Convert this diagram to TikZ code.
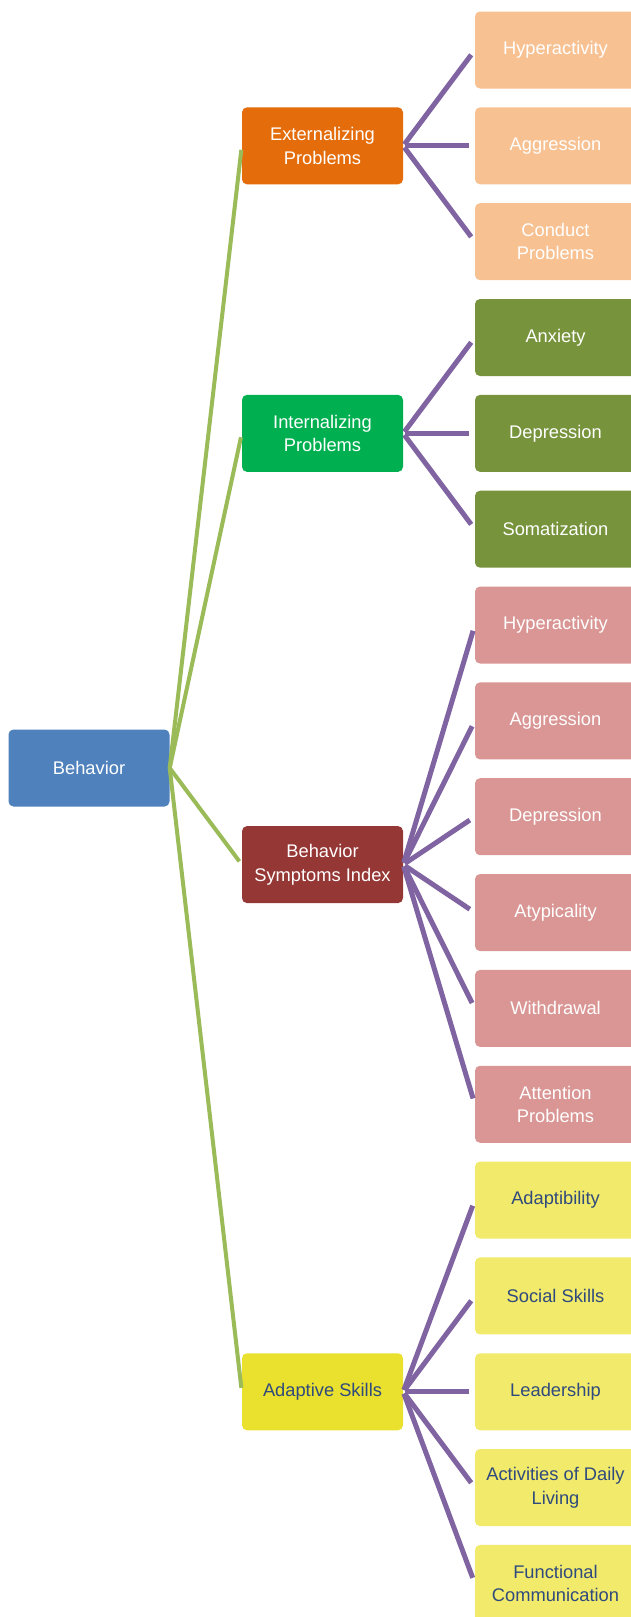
\documentclass[tikz,border=0pt]{standalone}
\usepackage{fontspec}
\setmainfont{Liberation Sans}
\definecolor{rootblue}{HTML}{4F81BD}
\definecolor{extorange}{HTML}{E46C0A}
\definecolor{extleaf}{HTML}{F8C192}
\definecolor{intgreen}{HTML}{00B050}
\definecolor{intleaf}{HTML}{77933C}
\definecolor{bsired}{HTML}{953735}
\definecolor{bsileaf}{HTML}{D99694}
\definecolor{adayellow}{HTML}{EAE02E}
\definecolor{adaleaf}{HTML}{F2EA6B}
\definecolor{adatext}{HTML}{2F4A7C}
\definecolor{branchgreen}{HTML}{9BBB59}
\definecolor{twigpurple}{HTML}{8064A2}

\begin{document}
\begin{tikzpicture}[node distance={95.84pt},
  main/.style = {rounded corners=5pt, minimum width=161pt, minimum height=77pt, inner sep=0pt, align=center, text=white, font=\fontsize{18.3}{23.5}\selectfont},
  branch/.style = {draw=branchgreen, line width=4pt, shorten >=4pt},
  twig/.style = {draw=twigpurple, line width=5pt, shorten <=2pt, shorten >=6pt}]
\useasboundingbox[fill=white] (0pt,0pt) rectangle (631pt,-1617pt);
% leaves
\node[main, fill=extleaf] (hyp1) at (555.5pt,-50pt) {Hyperactivity};
\node[main, fill=extleaf] (agg1) [below of=hyp1] {Aggression};
\node[main, fill=extleaf] (cond) [below of=agg1] {Conduct\\Problems};
\node[main, fill=intleaf] (anx) [below of=cond] {Anxiety};
\node[main, fill=intleaf] (dep1) [below of=anx] {Depression};
\node[main, fill=intleaf] (som) [below of=dep1] {Somatization};
\node[main, fill=bsileaf] (hyp2) [below of=som] {Hyperactivity};
\node[main, fill=bsileaf] (agg2) [below of=hyp2] {Aggression};
\node[main, fill=bsileaf] (dep2) [below of=agg2] {Depression};
\node[main, fill=bsileaf] (aty) [below of=dep2] {Atypicality};
\node[main, fill=bsileaf] (wit) [below of=aty] {Withdrawal};
\node[main, fill=bsileaf] (att) [below of=wit] {Attention\\Problems};
\node[main, fill=adaleaf, text=adatext] (ada) [below of=att] {Adaptibility};
\node[main, fill=adaleaf, text=adatext] (soc) [below of=ada] {Social Skills};
\node[main, fill=adaleaf, text=adatext] (lea) [below of=soc] {Leadership};
\node[main, fill=adaleaf, text=adatext] (adl) [below of=lea] {Activities of Daily\\Living};
\node[main, fill=adaleaf, text=adatext] (fun) [below of=adl] {Functional\\Communication};
% middle level
\node[main, fill=extorange] (ext) [left of=agg1, node distance=233pt] {Externalizing\\Problems};
\node[main, fill=intgreen] (int) [left of=dep1, node distance=233pt] {Internalizing\\Problems};
\node[main, fill=bsired] (bsi) at (322.5pt,-864.6pt) {Behavior\\Symptoms Index};
\node[main, fill=adayellow, text=adatext] (ads) [left of=lea, node distance=233pt] {Adaptive Skills};
% root
\node[main, fill=rootblue] (beh) at (89pt,-768pt) {Behavior};
\draw[branch] (beh.east) -- (ext.west);
\draw[branch] (beh.east) -- (int.west);
\draw[branch] (beh.east) -- (bsi.west);
\draw[branch] (beh.east) -- (ads.west);
\draw[twig] (ext.east) -- (hyp1.west);
\draw[twig] (ext.east) -- (agg1.west);
\draw[twig] (ext.east) -- (cond.west);
\draw[twig] (int.east) -- (anx.west);
\draw[twig] (int.east) -- (dep1.west);
\draw[twig] (int.east) -- (som.west);
\draw[twig] (bsi.east) -- (hyp2.west);
\draw[twig] (bsi.east) -- (agg2.west);
\draw[twig] (bsi.east) -- (dep2.west);
\draw[twig] (bsi.east) -- (aty.west);
\draw[twig] (bsi.east) -- (wit.west);
\draw[twig] (bsi.east) -- (att.west);
\draw[twig] (ads.east) -- (ada.west);
\draw[twig] (ads.east) -- (soc.west);
\draw[twig] (ads.east) -- (lea.west);
\draw[twig] (ads.east) -- (adl.west);
\draw[twig] (ads.east) -- (fun.west);
\end{tikzpicture}
\end{document}
